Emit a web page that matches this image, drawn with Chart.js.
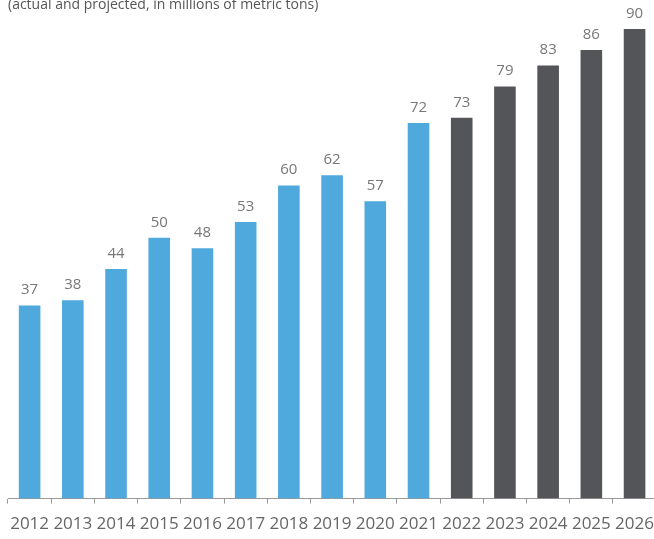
<!DOCTYPE html>
<html>
<head>
<meta charset="utf-8">
<script src="https://cdn.jsdelivr.net/npm/chart.js@4.4.1/dist/chart.umd.min.js"></script>
<style>
  html, body { margin: 0; padding: 0; background: #fff; overflow: hidden; }
  /* slightly larger than the window so the axis runs off the right and bottom edges */
  #wrap { width: 664px; height: 549px; position: relative; }
</style>
</head>
<body>
<div id="wrap"><canvas id="bar-chart"></canvas></div>
<script>
var years = ["2012", "2013", "2014", "2015", "2016", "2017", "2018", "2019", "2020", "2021", "2022", "2023", "2024", "2025", "2026"];
var tons = [37, 38, 44, 50, 48, 53, 60, 62, 57, 72, 73, 79, 83, 86, 90];
var projectedFrom = 10; // index of 2022, first projected year
var subtitle = "(actual and projected, in millions of metric tons)";

var blue = "#4fa9dc";
var grey = "#545558";

var colors = [];
for (var i = 0; i < tons.length; i++) {
    colors.push(i < projectedFrom ? blue : grey);
}

// numbers above each bar
var valueLabels = {
    id: 'valueLabels',
    afterDatasetsDraw: function(chart) {
        var ctx = chart.ctx;
        var meta = chart.getDatasetMeta(0);
        ctx.save();
        ctx.font = '15px "Open Sans"';
        ctx.fillStyle = '#777';
        ctx.textAlign = 'center';
        ctx.textBaseline = 'bottom';
        meta.data.forEach(function(bar, idx) {
            ctx.fillText(tons[idx], bar.x, bar.y - 8);
        });
        ctx.restore();
    }
};

// subtitle line at the top, half cut off
var topNote = {
    id: 'topNote',
    afterDraw: function(chart) {
        var ctx = chart.ctx;
        ctx.save();
        ctx.font = '14px "Open Sans"';
        ctx.fillStyle = '#555';
        ctx.textAlign = 'left';
        ctx.textBaseline = 'alphabetic';
        ctx.fillText(subtitle, 8, 9);
        ctx.restore();
    }
};

new Chart(document.getElementById("bar-chart"), {
    type: 'bar',
    data: {
        labels: years,
        datasets: [{
            data: tons,
            backgroundColor: colors,
            barPercentage: 0.5,
            categoryPercentage: 1
        }]
    },
    options: {
        responsive: true,
        maintainAspectRatio: false,
        animation: false,
        layout: {
            padding: { top: 3, left: 8, right: 0, bottom: 5 }
        },
        plugins: {
            legend: { display: false },
            title: { display: false },
            tooltip: { enabled: false }
        },
        scales: {
            x: {
                grid: {
                    offset: true,
                    drawOnChartArea: false,
                    drawTicks: true,
                    tickLength: 5,
                    color: '#999'
                },
                border: { display: true, color: '#999', width: 1 },
                ticks: {
                    color: '#666',
                    padding: 10,
                    maxRotation: 0,
                    autoSkip: false,
                    font: { family: '"Open Sans"', size: 17 }
                }
            },
            y: {
                display: false,
                min: 0,
                max: 95
            }
        }
    },
    plugins: [valueLabels, topNote]
});
</script>
</body>
</html>
